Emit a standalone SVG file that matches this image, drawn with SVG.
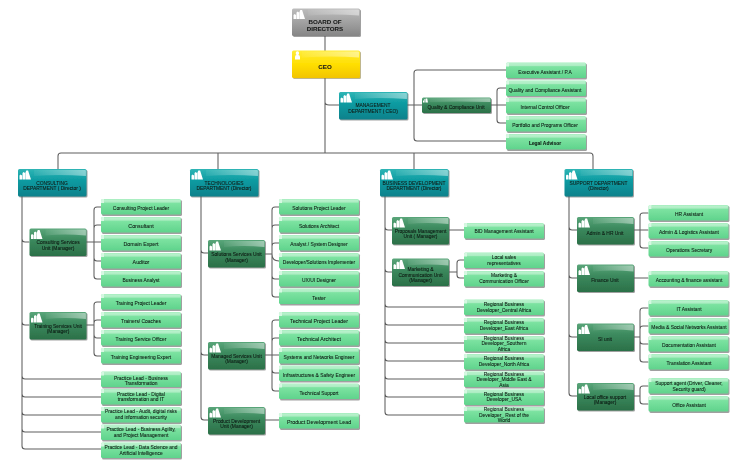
<svg xmlns="http://www.w3.org/2000/svg" xmlns:xlink="http://www.w3.org/1999/xlink" width="730" height="460" viewBox="0 0 730 460">
<style>
text{font-family:"Liberation Sans",Arial,sans-serif;font-size:4.9px;fill:#0c1610;text-anchor:middle;stroke:#0c1610;stroke-width:.06}
.big{font-size:5.3px}
.bd{font-size:6.2px;font-weight:bold;fill:#1a1a1a}
#connectors path{fill:none;stroke:#5f5f5f;stroke-width:1.05;stroke-linecap:round}
</style>
<defs>
<filter id="blur" x="0" y="0" width="100%" height="100%"><feGaussianBlur stdDeviation="0.3"/></filter>
<filter id="sh" x="-10%" y="-20%" width="120%" height="140%"><feGaussianBlur stdDeviation="0.7"/></filter>
<linearGradient id="gLeaf" x1="0" y1="0" x2="0" y2="1"><stop offset="0" stop-color="#a4eebd"/><stop offset="0.3" stop-color="#7be2a0"/><stop offset="1" stop-color="#5fd38c"/></linearGradient>
<linearGradient id="gUnit" x1="0" y1="0" x2="0" y2="1"><stop offset="0" stop-color="#5aa67a"/><stop offset="0.4" stop-color="#3c8a5e"/><stop offset="1" stop-color="#2b7048"/></linearGradient>
<linearGradient id="gDept" x1="0" y1="0" x2="0" y2="1"><stop offset="0" stop-color="#2fb5b5"/><stop offset="0.4" stop-color="#0d9ca2"/><stop offset="1" stop-color="#07818b"/></linearGradient>
<linearGradient id="gGray" x1="0" y1="0" x2="0" y2="1"><stop offset="0" stop-color="#bdbdbd"/><stop offset="1" stop-color="#858585"/></linearGradient>
<linearGradient id="gCeo" x1="0" y1="0" x2="0" y2="1"><stop offset="0" stop-color="#ffec3a"/><stop offset="0.5" stop-color="#ffdf00"/><stop offset="1" stop-color="#f2c400"/></linearGradient>
<linearGradient id="gShine" x1="0" y1="0" x2="1" y2="0"><stop offset="0" stop-color="#fff" stop-opacity="0.05"/><stop offset="1" stop-color="#fff" stop-opacity="0.45"/></linearGradient>
<g id="people" fill="#fff"><path d="M0 9.500V5.500L1 4.500 2.600 5.500V9.500zM3 9.500V3L4.200 2 5.500 3V9.500zM5.800 9.500V3L6.800 .5H8.600L9.400 3 11.500 9.500z"/></g>
<symbol id="leaf" width="84" height="20" overflow="visible"><rect x="1" y="1" width="80" height="16" rx="1.500" fill="#555" opacity="0.55" filter="url(#sh)"/><rect width="80" height="15.600" rx="1.500" fill="url(#gLeaf)"/><rect x="3" y="0.600" width="76.400" height="3" fill="#fff" opacity="0.3"/><path d="M0 4V1.500Q0 0 1.500 0H3V4z" fill="#d6f8e2"/></symbol>
<symbol id="unit" width="60" height="31" overflow="visible"><rect x="1" y="1" width="57" height="27.500" rx="1.500" fill="#555" opacity="0.55" filter="url(#sh)"/><rect width="57" height="27.500" rx="1.500" fill="url(#gUnit)"/><path d="M16 1H55.500Q56.400 1 56.400 2V7Q35 5 16 7z" fill="url(#gShine)"/><use href="#people" x="1.500" y="1"/></symbol>
<symbol id="unitS" width="72" height="19" overflow="visible"><rect x="1" y="1" width="69" height="15.500" rx="1.500" fill="#555" opacity="0.55" filter="url(#sh)"/><rect width="69" height="15.500" rx="1.500" fill="url(#gUnit)"/><path d="M8 .8H67.500Q68.400 .8 68.400 2V4.500Q35 3.500 8 4.500z" fill="url(#gShine)"/><path d="M1 5V3h1v2zM2.400 5V1.500h1V5zM3.800 5V1h1.400L6 5z" fill="#fff"/></symbol>
<symbol id="dept" width="72" height="31" overflow="visible"><rect x="1" y="1" width="68.500" height="27.500" rx="1.500" fill="#555" opacity="0.55" filter="url(#sh)"/><rect width="68.500" height="27.500" rx="1.500" fill="url(#gDept)"/><path d="M16 1H67Q67.900 1 67.900 2V7Q40 5 16 7z" fill="url(#gShine)"/><use href="#people" x="1.500" y="1"/></symbol>
<symbol id="board" width="72" height="31" overflow="visible"><rect x="1" y="1" width="68" height="27.500" rx="1.500" fill="#555" opacity="0.55" filter="url(#sh)"/><rect width="68" height="27.500" rx="1.500" fill="url(#gGray)"/><path d="M16 1H66Q67 1 67 2V7Q40 5 16 7z" fill="url(#gShine)"/><use href="#people" x="1.500" y="1"/></symbol>
<symbol id="ceo" width="72" height="31" overflow="visible"><rect x="1" y="1" width="68" height="27.500" rx="1.500" fill="#8a7a30" opacity="0.55" filter="url(#sh)"/><rect width="68" height="27.500" rx="1.500" fill="url(#gCeo)"/><path d="M10 1H66Q67 1 67 2V7Q40 5 10 7z" fill="url(#gShine)"/><path d="M3 9V6.500Q3 4.600 4.600 4.500 3.400 3.600 3.800 2 4.400.8 5.400.8 6.600.8 7 2 7.400 3.600 6.200 4.500 8 4.600 8 6.500V9z" fill="#fff"/></symbol>
</defs>
<rect width="730" height="460" fill="#fff"/>
<g filter="url(#blur)">
<g id="connectors">
<path d="M325 36V51M325 78V153M325 102Q325 105 329 105H339M58 169V156Q58 153 61 153H590Q593 153 593 156V169M218 153V169M414 153V169"/>
<path d="M407 105H422M414 105V73Q414 70 417 70H506M414 105V138Q414 141 417 141H506M491 105H497M497 105V91Q497 88 500 88H506M497 105H506M497 105V120Q497 123 500 123H506"/>
<path d="M22 196V446Q22 449 25 449H101M22 239Q22 242 25 242H29M22 322Q22 325 25 325H29M22 376Q22 379 25 379H101M22 394Q22 397 25 397H101M22 412Q22 415 25 415H101M22 429Q22 432 25 432H101"/>
<path d="M86 242H94M94 242V210Q94 207 97 207H101M94 228Q94 225 97 225H101M94 242H101M94 258Q94 261 97 261H101M94 242V276Q94 279 97 279H101"/>
<path d="M86 325H94M94 325V305Q94 302 97 302H101M94 323Q94 320 97 320H101M94 325V334Q94 338 97 338H101M94 325V353Q94 356 97 356H101"/>
<path d="M201 196V417Q201 420 204 420H208M201 250Q201 253 204 253H208M201 352Q201 355 204 355H208"/>
<path d="M265 254H272M272 254V210Q272 207 275 207H279M272 228Q272 225 275 225H279M272 246Q272 243 275 243H279M272 254Q272 261 279 261M272 254V276Q272 279 275 279H279M272 254V294Q272 297 275 297H279"/>
<path d="M265 355H272M272 355V323Q272 320 275 320H279M272 341Q272 338 275 338H279M272 355H279M272 355V370Q272 373 275 373H279M272 355V388Q272 391 275 391H279M265 420H279"/>
<path d="M385 196V412Q385 415 388 415H464M385 227Q385 230 388 230H392M385 269Q385 272 388 272H392M385 304Q385 307 388 307H464M385 322Q385 325 388 325H464M385 340Q385 343 388 343H464M385 358Q385 361 388 361H464M385 376Q385 379 388 379H464M385 394Q385 397 388 397H464"/>
<path d="M449 230H464M449 272H457M457 272V263Q457 260 460 260H464M457 272V275Q457 278 460 278H464"/>
<path d="M569 196V393Q569 396 572 396H577M569 227Q569 230 572 230H577M569 275Q569 278 572 278H577M569 334Q569 337 572 337H577"/>
<path d="M633 230H640M640 230V216Q640 213 643 213H648M640 230H648M640 230V245Q640 248 643 248H648M633 278H648M633 337H640M640 337V311Q640 308 643 308H648M640 337V329Q640 326 643 326H648M640 337V341Q640 344 643 344H648M640 337V359Q640 362 643 362H648M633 396H640M640 396V389Q640 386 643 386H648M640 396V401Q640 404 643 404H648"/>
</g>
<g id="board-of-directors"><use href="#board" x="292" y="8.500"/><text class="bd" x="325" y="23.500">BOARD OF</text><text class="bd" x="325" y="31">DIRECTORS</text></g>
<g id="ceo-node"><use href="#ceo" x="292" y="50.500"/><text class="bd" x="325" y="69">CEO</text></g>
<g id="management"><use href="#dept" x="339" y="92"/><text x="373" y="107">MANAGEMENT</text><text x="373" y="112.700">DEPARTMENT ( CEO)</text></g>
<g id="quality-unit"><use href="#unitS" x="422" y="97.500"/><text x="456" y="109">Quality &amp; Compliance Unit</text></g>
<g id="exec"><use href="#leaf" x="506" y="62.500"/><text x="545" y="73.500">Executive Assistant / P.A</text></g>
<g id="quality-asst"><use href="#leaf" x="506" y="80.500"/><text x="545" y="91.500">Quality and Compliance Assistant</text></g>
<g id="internal"><use href="#leaf" x="506" y="98"/><text x="545" y="109">Internal Control Officer</text></g>
<g id="portfolio"><use href="#leaf" x="506" y="116"/><text x="545" y="127">Portfolio and Programs Officer</text></g>
<g id="legal"><use href="#leaf" x="506" y="134"/><text x="545" y="145" font-weight="bold">Legal Advisor</text></g>

<g id="consulting"><use href="#dept" x="18" y="169"/><text x="52" y="184.500">CONSULTING</text><text x="52" y="190">DEPARTMENT ( Director )</text></g>
<g id="consulting-unit"><use href="#unit" x="29.500" y="228.500"/><text x="58" y="244">Consulting Services</text><text x="58" y="249.500">Unit (Manager)</text></g>
<g id="c1"><use href="#leaf" x="101" y="199"/><text x="141" y="210">Consulting Project Leader</text></g>
<g id="c2"><use href="#leaf" x="101" y="217"/><text class="big" x="141" y="228">Consultant</text></g>
<g id="c3"><use href="#leaf" x="101" y="235"/><text class="big" x="141" y="246">Domain Expert</text></g>
<g id="c4"><use href="#leaf" x="101" y="253"/><text class="big" x="141" y="264">Auditor</text></g>
<g id="c5"><use href="#leaf" x="101" y="271"/><text x="141" y="281.500">Business Analyst</text></g>
<g id="training-unit"><use href="#unit" x="29.500" y="312"/><text x="58" y="327.500">Training Services Unit</text><text x="58" y="332.500">(Manager)</text></g>
<g id="t1"><use href="#leaf" x="101" y="294"/><text x="141" y="305">Training Project Leader</text></g>
<g id="t2"><use href="#leaf" x="101" y="312"/><text x="141" y="323">Trainers/ Coaches</text></g>
<g id="t3"><use href="#leaf" x="101" y="330"/><text x="141" y="341">Training Service Officer</text></g>
<g id="t4"><use href="#leaf" x="101" y="348"/><text x="141" y="359">Training Engineering Expert</text></g>
<g id="p1"><use href="#leaf" x="101" y="371.500"/><text x="141" y="379.500">Practice Lead - Business</text><text x="141" y="385">Transformation</text></g>
<g id="p2"><use href="#leaf" x="101" y="389"/><text x="141" y="395.500">Practice Lead - Digital</text><text x="141" y="401">transformation and IT</text></g>
<g id="p3"><use href="#leaf" x="101" y="407"/><text x="141" y="413">Practice Lead - Audit, digital risks</text><text x="141" y="419">and information security</text></g>
<g id="p4"><use href="#leaf" x="101" y="424.500"/><text x="141" y="431">Practice Lead - Business Agility,</text><text x="141" y="436.500">and Project Management</text></g>
<g id="p5"><use href="#leaf" x="101" y="442.500"/><text x="141" y="449">Practice Lead - Data Science and</text><text x="141" y="454.500">Artificial Intelligence</text></g>

<g id="technologies"><use href="#dept" x="190" y="169"/><text x="224" y="184.500">TECHNOLOGIES</text><text x="224" y="190">DEPARTMENT (Director)</text></g>
<g id="solutions-unit"><use href="#unit" x="208" y="240"/><text x="236.500" y="256">Solutions Services Unit</text><text x="236.500" y="261.500">(Manager)</text></g>
<g id="s1"><use href="#leaf" x="279" y="199"/><text x="319" y="210">Solutions Project Leader</text></g>
<g id="s2"><use href="#leaf" x="279" y="217"/><text x="319" y="228">Solutions Architect</text></g>
<g id="s3"><use href="#leaf" x="279" y="235"/><text x="319" y="246">Analyst / System Designer</text></g>
<g id="s4"><use href="#leaf" x="279" y="253"/><text x="319" y="264">Developer/Solutions Implementer</text></g>
<g id="s5"><use href="#leaf" x="279" y="271"/><text x="319" y="282">UX/UI Designer</text></g>
<g id="s6"><use href="#leaf" x="279" y="288.500"/><text x="319" y="299.500">Tester</text></g>
<g id="managed-unit"><use href="#unit" x="208" y="342"/><text x="236.500" y="357.500">Managed Services Unit</text><text x="236.500" y="363">(Manager)</text></g>
<g id="m1"><use href="#leaf" x="279" y="312"/><text class="big" x="319" y="323">Technical Project Leader</text></g>
<g id="m2"><use href="#leaf" x="279" y="330"/><text class="big" x="319" y="341">Technical Architect</text></g>
<g id="m3"><use href="#leaf" x="279" y="348"/><text x="319" y="359">Systems and Networks Engineer</text></g>
<g id="m4"><use href="#leaf" x="279" y="365.500"/><text x="319" y="376.500">Infrastructures &amp; Safety Engineer</text></g>
<g id="m5"><use href="#leaf" x="279" y="383.500"/><text x="319" y="394.500">Technical Support</text></g>
<g id="product-unit"><use href="#unit" x="208" y="407"/><text x="236.500" y="422.500">Product Development</text><text x="236.500" y="428">Unit (Manager)</text></g>
<g id="product-lead"><use href="#leaf" x="279" y="413"/><text class="big" x="319" y="424">Product Development Lead</text></g>

<g id="business"><use href="#dept" x="380" y="169"/><text x="414" y="184.500">BUSINESS DEVELOPMENT</text><text x="414" y="190">DEPARTMENT (Director)</text></g>
<g id="proposals-unit"><use href="#unit" x="392" y="217"/><text x="420.500" y="232.500">Proposals Management</text><text x="420.500" y="238">Unit ( Manager)</text></g>
<g id="bid"><use href="#leaf" x="464" y="223"/><text x="504" y="232.500">BID Management Assistant</text></g>
<g id="marketing-unit"><use href="#unit" x="392" y="258.500"/><text x="420.500" y="270.500">Marketing &amp;</text><text x="420.500" y="276.500">Communication Unit</text><text x="420.500" y="282">(Manager)</text></g>
<g id="sales"><use href="#leaf" x="464" y="252.500"/><text x="504" y="259">Local sales</text><text x="504" y="264.500">representatives</text></g>
<g id="comm"><use href="#leaf" x="464" y="271"/><text x="504" y="277">Marketing &amp;</text><text x="504" y="282.500">Communication Officer</text></g>
<g id="r1"><use href="#leaf" x="464" y="299.500"/><text x="504" y="306">Regional Business</text><text x="504" y="312">Developer_Central Africa</text></g>
<g id="r2"><use href="#leaf" x="464" y="318"/><text x="504" y="324">Regional Business</text><text x="504" y="330">Developer_East Africa</text></g>
<g id="r3"><use href="#leaf" x="464" y="336"/><text x="504" y="340">Regional Business</text><text x="504" y="345">Developer_Southern</text><text x="504" y="350.500">Africa</text></g>
<g id="r4"><use href="#leaf" x="464" y="354"/><text x="504" y="360">Regional Business</text><text x="504" y="366">Developer_North Africa</text></g>
<g id="r5"><use href="#leaf" x="464" y="371.500"/><text x="504" y="375.500">Regional Business</text><text x="504" y="381">Developer_Middle East &amp;</text><text x="504" y="386.500">Asia</text></g>
<g id="r6"><use href="#leaf" x="464" y="389.500"/><text x="504" y="395.500">Regional Business</text><text x="504" y="401">Developer_USA</text></g>
<g id="r7"><use href="#leaf" x="464" y="407"/><text x="504" y="411">Regional Business</text><text x="504" y="416.500">Developer_ Rest of the</text><text x="504" y="422">World</text></g>

<g id="support"><use href="#dept" x="564.500" y="169"/><text x="598.500" y="184.500">SUPPORT DEPARTMENT</text><text x="598.500" y="190">(Director)</text></g>
<g id="admin-unit"><use href="#unit" x="577" y="217"/><text x="605" y="234.500">Admin &amp; HR Unit</text></g>
<g id="hr"><use href="#leaf" x="648.500" y="205"/><text x="689" y="216">HR Assistant</text></g>
<g id="logistics"><use href="#leaf" x="648.500" y="223"/><text x="689" y="234">Admin &amp; Logistics Assistant</text></g>
<g id="ops"><use href="#leaf" x="648.500" y="241"/><text x="689" y="252">Operations Secretary</text></g>
<g id="finance-unit"><use href="#unit" x="577" y="264.500"/><text x="605" y="282">Finance Unit</text></g>
<g id="accounting"><use href="#leaf" x="648.500" y="271"/><text x="689" y="281.500">Accounting &amp; finance assistant</text></g>
<g id="si-unit"><use href="#unit" x="577" y="323.500"/><text x="605" y="341">SI unit</text></g>
<g id="it"><use href="#leaf" x="648.500" y="300"/><text x="689" y="311">IT Assistant</text></g>
<g id="media"><use href="#leaf" x="648.500" y="318"/><text x="689" y="329">Media &amp; Social Networks Assistant</text></g>
<g id="doc"><use href="#leaf" x="648.500" y="336"/><text x="689" y="347">Documentation Assistant</text></g>
<g id="translation"><use href="#leaf" x="648.500" y="354"/><text x="689" y="365">Translation Assistant</text></g>
<g id="local-unit"><use href="#unit" x="577" y="383"/><text x="605" y="398.500">Local office support</text><text x="605" y="404">(Manager)</text></g>
<g id="agent"><use href="#leaf" x="648.500" y="378"/><text x="689" y="385">Support agent (Driver, Cleaner,</text><text x="689" y="390.500">Security guard)</text></g>
<g id="office"><use href="#leaf" x="648.500" y="396"/><text x="689" y="406.500">Office Assistant</text></g>
</g>
</svg>
